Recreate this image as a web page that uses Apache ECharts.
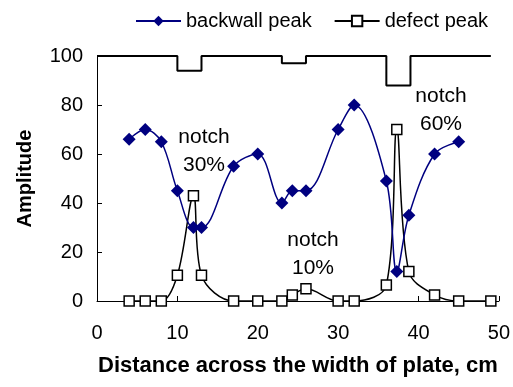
<!DOCTYPE html>
<html>
<head>
<meta charset="utf-8">
<script src="https://cdn.jsdelivr.net/npm/echarts@6/dist/echarts.min.js"></script>
<style>
    html, body { margin: 0; padding: 0; background: #fff; }
    #chart { width: 513px; height: 387px; }
</style>
</head>
<body>
<div id="chart"></div>
<script>
// data (x in cm, amplitude)
const backwallX = [4, 6, 8, 10, 12, 13, 17, 20, 23, 24.3, 26, 30, 32, 36, 37.3, 38.8, 42, 45];
const backwallY = [66, 70, 65, 45, 30, 30, 55, 60, 40, 45, 45, 70, 80, 49, 12, 35, 60, 65];

const defectX = [4, 6, 8, 10, 12, 13, 17, 20, 23, 24.3, 26, 30, 32, 36, 37.3, 38.8, 42, 45, 49];
const defectY = [0, 0, 0, 10.5, 43, 10.5, 0, 0, 0, 2.5, 5, 0, 0, 6.5, 70, 12, 2.5, 0, 0];

// plate profile (notch depths) drawn along the top
const profileX = [0, 10, 10, 13, 13, 23, 23, 26, 26, 36, 36, 39, 39, 49];
const profileY = [100, 100, 94, 94, 100, 100, 97, 97, 100, 100, 88, 88, 100, 100];

const notchLabels = ['notch\n30%', 'notch\n10%', 'notch\n60%'];

const FONT = '"Liberation Sans", Arial, sans-serif';

function zip(xs, ys) {
    return xs.map((x, i) => [x, ys[i]]);
}

function initChart() {
    const chartDom = document.getElementById('chart');
    const myChart = echarts.init(chartDom, null, { renderer: 'canvas' });

    const option = {
        animation: false,
        backgroundColor: '#fff',
        textStyle: { fontFamily: FONT },
        legend: {
            left: 130,
            top: 6,
            itemWidth: 45,
            itemHeight: 13,
            itemGap: 22,
            data: ['backwall peak', 'defect peak'],
            textStyle: { fontSize: 20, color: '#000', fontFamily: FONT }
        },
        grid: {
            left: 97,
            right: 11,
            top: 56,
            bottom: 86
        },
        xAxis: {
            type: 'value',
            min: 0,
            max: 50,
            interval: 10,
            name: 'Distance across the width of plate, cm',
            nameLocation: 'middle',
            nameGap: 54,
            nameTextStyle: { fontSize: 22, fontWeight: 'bold', color: '#000', fontFamily: FONT },
            axisLine: { lineStyle: { color: '#000', width: 1 } },
            axisTick: { inside: true, length: 5, lineStyle: { color: '#000' } },
            axisLabel: { fontSize: 20, color: '#000', margin: 22, fontFamily: FONT },
            splitLine: { show: false }
        },
        yAxis: {
            type: 'value',
            min: 0,
            max: 100,
            interval: 20,
            name: 'Amplitude',
            nameLocation: 'middle',
            nameGap: 62,
            nameTextStyle: { fontSize: 20, fontWeight: 'bold', color: '#000', fontFamily: FONT },
            axisLine: { show: true, lineStyle: { color: '#000', width: 1 } },
            axisTick: { show: true, inside: true, length: 5, lineStyle: { color: '#000' } },
            axisLabel: { fontSize: 20, color: '#000', margin: 14, fontFamily: FONT },
            splitLine: { show: false }
        },
        series: [
            {
                name: 'profile',
                type: 'line',
                data: zip(profileX, profileY),
                showSymbol: false,
                lineStyle: { color: '#000', width: 2 },
                silent: true,
                z: 1
            },
            {
                name: 'defect peak',
                type: 'line',
                data: zip(defectX, defectY),
                smooth: 0.35,
                symbol: 'rect',
                symbolSize: 10,
                lineStyle: { color: '#000', width: 1.5 },
                itemStyle: { color: '#fff', borderColor: '#000', borderWidth: 1.5 },
                z: 2
            },
            {
                name: 'backwall peak',
                type: 'line',
                data: zip(backwallX, backwallY),
                smooth: 0.35,
                symbol: 'diamond',
                symbolSize: 13,
                lineStyle: { color: '#000080', width: 1.5 },
                itemStyle: { color: '#000080' },
                z: 3
            }
        ],
        graphic: [
            { type: 'text', x: 204, y: 151, style: { text: notchLabels[0], fontSize: 21, lineHeight: 28, fill: '#000', align: 'center', verticalAlign: 'middle', fontFamily: FONT } },
            { type: 'text', x: 313, y: 254, style: { text: notchLabels[1], fontSize: 21, lineHeight: 28, fill: '#000', align: 'center', verticalAlign: 'middle', fontFamily: FONT } },
            { type: 'text', x: 441, y: 110, style: { text: notchLabels[2], fontSize: 21, lineHeight: 28, fill: '#000', align: 'center', verticalAlign: 'middle', fontFamily: FONT } }
        ]
    };

    myChart.setOption(option, true);
}

initChart();
</script>
</body>
</html>
